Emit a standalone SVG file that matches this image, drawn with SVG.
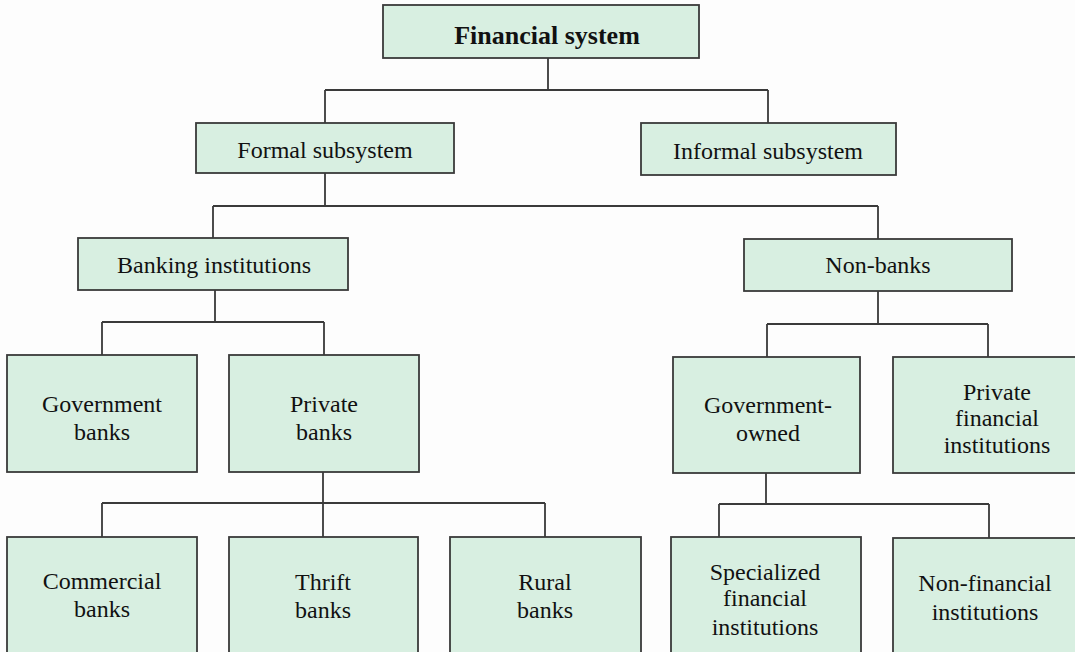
<svg xmlns="http://www.w3.org/2000/svg" width="1075" height="652" viewBox="0 0 1075 652">
<style>
.box{fill:#d8efe1;stroke:#3a3a3a;stroke-width:1.8}
.t{font-family:"Liberation Serif","Times New Roman",serif;font-size:24px;fill:#111111;text-anchor:middle}
.b{font-weight:bold;font-size:26px}
.c{fill:none;stroke:#3a3a3a;stroke-width:1.8}
</style>
<rect width="1075" height="652" fill="#fdfdfd"/>
<g id="connectors" class="c">
<path d="M548 58V90M325 90H768M325 90V123M768 90V123"/>
<path d="M325 173V206M213 206H878M213 206V238M878 206V239"/>
<path d="M215 290V322M102 322H324M102 322V355M324 322V355"/>
<path d="M878 291V324M767 324H988M767 324V357M988 324V357"/>
<path d="M323 472V503M102 503H545M102 503V537M323 503V537M545 503V537"/>
<path d="M766 473V504M719 504H989M719 504V537M989 504V538"/>
</g>
<g id="financial-system"><rect class="box" x="383" y="5" width="316" height="53"/><text class="t b" x="547" y="44">Financial system</text></g>
<g id="formal-subsystem"><rect class="box" x="196" y="123" width="258" height="50"/><text class="t" x="325" y="158">Formal subsystem</text></g>
<g id="informal-subsystem"><rect class="box" x="641" y="123" width="255" height="52"/><text class="t" x="768" y="159">Informal subsystem</text></g>
<g id="banking-institutions"><rect class="box" x="78" y="238" width="270" height="52"/><text class="t" x="214" y="273">Banking institutions</text></g>
<g id="non-banks"><rect class="box" x="744" y="239" width="268" height="52"/><text class="t" x="878" y="273">Non-banks</text></g>
<g id="government-banks"><rect class="box" x="7" y="355" width="190" height="117"/><text class="t" x="102" y="412">Government</text><text class="t" x="102" y="440">banks</text></g>
<g id="private-banks"><rect class="box" x="229" y="355" width="190" height="117"/><text class="t" x="324" y="412">Private</text><text class="t" x="324" y="440">banks</text></g>
<g id="government-owned"><rect class="box" x="673" y="357" width="187" height="116"/><text class="t" x="768" y="413">Government-</text><text class="t" x="768" y="441">owned</text></g>
<g id="private-financial-institutions"><rect class="box" x="893" y="357" width="190" height="116"/><text class="t" x="997" y="400">Private</text><text class="t" x="997" y="426">financial</text><text class="t" x="997" y="453">institutions</text></g>
<g id="commercial-banks"><rect class="box" x="7" y="537" width="190" height="125"/><text class="t" x="102" y="589">Commercial</text><text class="t" x="102" y="617">banks</text></g>
<g id="thrift-banks"><rect class="box" x="229" y="537" width="189" height="125"/><text class="t" x="323" y="590">Thrift</text><text class="t" x="323" y="618">banks</text></g>
<g id="rural-banks"><rect class="box" x="450" y="537" width="191" height="125"/><text class="t" x="545" y="590">Rural</text><text class="t" x="545" y="618">banks</text></g>
<g id="specialized-financial-institutions"><rect class="box" x="671" y="537" width="190" height="125"/><text class="t" x="765" y="580">Specialized</text><text class="t" x="765" y="606">financial</text><text class="t" x="765" y="635">institutions</text></g>
<g id="non-financial-institutions"><rect class="box" x="893" y="538" width="190" height="124"/><text class="t" x="985" y="591">Non-financial</text><text class="t" x="985" y="620">institutions</text></g>
</svg>
